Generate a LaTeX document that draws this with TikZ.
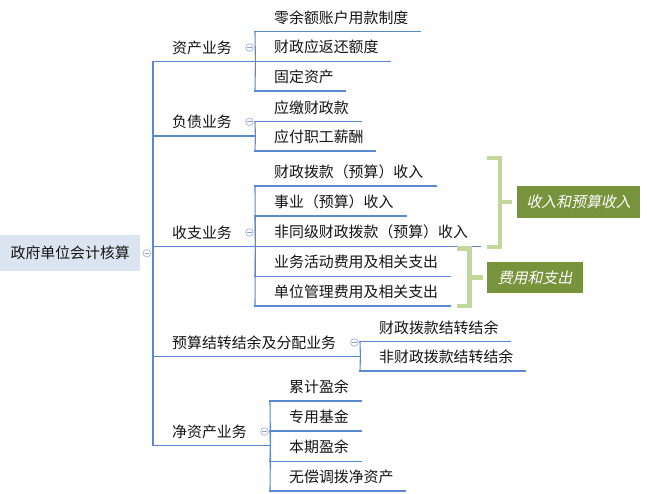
\documentclass[tikz,border=0pt]{standalone}
\usepackage{fontspec}
\setmainfont{Noto Sans CJK SC}
\newfontfamily\slantfont[FakeSlant=0.22]{Noto Sans CJK SC}
\definecolor{branchblue}{RGB}{91,137,209}
\definecolor{foldblue}{RGB}{170,186,226}
\definecolor{foldgray}{RGB}{150,160,185}
\definecolor{bracegreen}{RGB}{196,215,155}
\definecolor{summaryolive}{RGB}{119,147,60}
\definecolor{rootfill}{RGB}{219,229,241}
\definecolor{txt}{RGB}{20,20,20}
\tikzset{
  branch/.style={draw=branchblue, line width=1.1pt, line cap=rect},
  topic/.style={anchor=south west, inner sep=0pt, minimum height=28pt,
    font=\fontsize{14.9pt}{16pt}\selectfont, text=txt},
  rootbox/.style={anchor=north west, fill=rootfill, minimum width=140pt,
    minimum height=36pt, inner sep=0pt, font=\fontsize{14.9pt}{16pt}\selectfont, text=txt},
  fold/.style={circle, draw=foldblue, line width=0.8pt, minimum size=7.6pt,
    inner sep=0pt, fill=white,
    path picture={\draw[foldgray, line width=0.8pt]
      ([xshift=-2.3pt]path picture bounding box.center) --
      ([xshift=2.3pt]path picture bounding box.center);}},
  brace/.style={draw=bracegreen, line width=4.3pt, line join=miter},
  summary/.style={anchor=west, fill=summaryolive, text=white, inner sep=0pt,
    font=\slantfont\fontsize{14.9pt}{16pt}\selectfont},
}
\newcommand\topic[5]{%
  \node[topic] (#1) at (#2,#3) {\makebox[#4pt][l]{\hspace*{19pt}#5}};
  \draw[branch] (#1.south west) -- (#1.south east);}
\begin{document}
\begin{tikzpicture}[x=1pt,y=-1pt]
\useasboundingbox (0,0) rectangle (647,494);

% root
\node[rootbox] (root) at (0,235) {政府单位会计核算};
\node[fold] (rootfold) at ([xshift=6.5pt]root.east) {};

% level 1
\topic{zc}{153}{61.7}{102}{资产业务}
\topic{fz}{153}{136}{102}{负债业务}
\topic{sz}{153}{246.7}{102}{收支业务}
\topic{ys}{153}{356.7}{207}{预算结转结余及分配业务}
\topic{jz}{153}{445.7}{117}{净资产业务}
\foreach \c in {zc,fz,sz,ys,jz}{
  \draw[branch] (\c.south west) -- (\c.south west |- root.east);
  \node[fold] (\c fold) at ([xshift=-6pt]\c.east) {};
}

% level 2
\topic{a1}{255}{31.7}{165}{零余额账户用款制度}
\topic{a2}{255}{61.3}{135}{财政应返还额度}
\topic{a3}{255}{91}{90}{固定资产}
\topic{b1}{255}{121.7}{106}{应缴财政款}
\topic{b2}{255}{151}{120}{应付职工薪酬}
\topic{c1}{255}{186}{181}{财政拨款（预算）收入}
\topic{c2}{255}{216}{151}{事业（预算）收入}
\topic{c3}{255}{246.5}{225}{非同级财政拨款（预算）收入}
\topic{c4}{255}{276.5}{195}{业务活动费用及相关支出}
\topic{c5}{255}{306}{195}{单位管理费用及相关支出}
\topic{d1}{360}{341.7}{150}{财政拨款结转结余}
\topic{d2}{360}{371}{165}{非财政拨款结转结余}
\topic{e1}{270}{401}{91}{累计盈余}
\topic{e2}{270}{431}{91}{专用基金}
\topic{e3}{270}{461.3}{91}{本期盈余}
\topic{e4}{270}{491}{135}{无偿调拨净资产}

\foreach \p/\c in {zc/a1,zc/a2,zc/a3,fz/b1,fz/b2,sz/c1,sz/c2,sz/c3,sz/c4,sz/c5,
                   ys/d1,ys/d2,jz/e1,jz/e2,jz/e3,jz/e4}{
  \draw[branch] (\p.south east) -- (\c.south west);
}

% summaries
\node[summary, minimum width=123.3pt, minimum height=32pt] (s1) at (516.7,202) {收入和预算收入};
\node[summary, minimum width=96.3pt, minimum height=31pt] (s2) at (486.7,277.5) {费用和支出};

\coordinate (k1a) at (487.3,158);
\coordinate (k1b) at (500.3,247);
\coordinate (k1c) at (487.3,247);
\draw[brace] (k1a) -| (k1b) -- (k1c);
\draw[brace] (k1b |- s1.west) -- ([xshift=-4.4pt]s1.west);

\coordinate (k2a) at (457,248.5);
\coordinate (k2b) at (469.5,306);
\coordinate (k2c) at (457,306);
\draw[brace] (k2a) -| (k2b) -- (k2c);
\draw[brace] (k2b |- s2.west) -- ([xshift=-4pt]s2.west);
\end{tikzpicture}
\end{document}
